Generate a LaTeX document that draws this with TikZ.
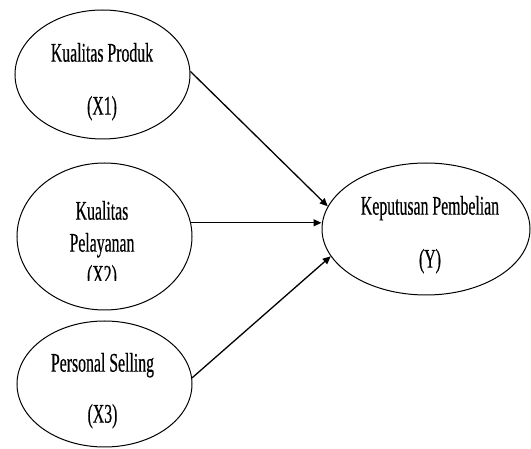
\documentclass[tikz,border=0pt]{standalone}
\usepackage{fontspec}
\setmainfont{Liberation Serif}[FakeStretch=0.585, FakeBold=0.4]
\usetikzlibrary{arrows.meta,shapes.geometric}

\begin{document}
\begin{tikzpicture}[
    x=1pt, y=-1pt,
    varbox/.style={ellipse, draw=black, line width=1pt, inner sep=0pt, minimum width=175pt},
    vartext/.style={align=center, inner sep=0pt, font=\fontsize{27}{32}\selectfont},
    arrow/.style={-{Triangle[length=8pt, width=7pt]}, line width=1.3pt}
]
\useasboundingbox (0,0) rectangle (531,449);

% Independent variables (left side)
\node[varbox, minimum height=129pt] (produk) at (102.5,74.5) {};
\node[varbox, minimum height=147pt] (pelayanan) at (104.5,236.5) {};
\node[varbox, minimum height=126pt] (selling) at (104.5,384) {};

% Dependent variable (right side)
\node[varbox, minimum width=208pt, minimum height=132pt] (keputusan) at (426,229) {};

% Labels
\node[vartext] (produktext) at (102,81.7) {Kualitas Produk\\[21pt](X1)};
\begin{scope}
\clip (0,0) rectangle (531,281);
\node[vartext] (pelayanantext) at (102,245.2) {Kualitas\\Pelayanan\\(X2)};
\end{scope}
\node[vartext] (sellingtext) at (102.5,390.7) {Personal Selling\\[19pt](X3)};
\node[vartext] (keputusantext) at (430,234.7) {Keputusan Pembelian\\[21pt](Y)};

% Arrows
\draw[arrow] (produk.2) -- (keputusan.167);
\draw[arrow] (pelayanan.9) -- (pelayanan.9 -| keputusan.west);
\draw[arrow] (selling.4) -- (keputusan.196);

\end{tikzpicture}
\end{document}
